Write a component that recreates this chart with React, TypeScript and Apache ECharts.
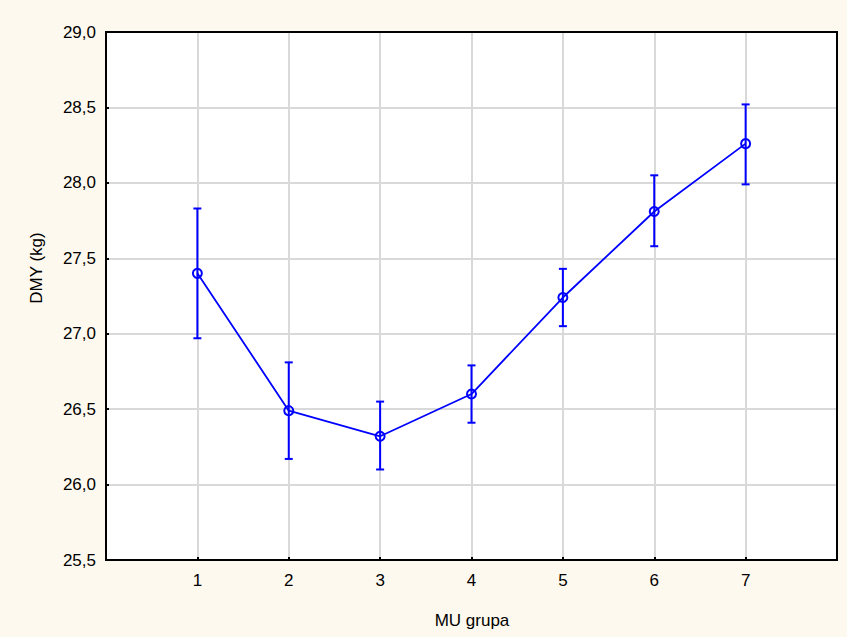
import React, { useEffect, useRef } from "react";
import * as echarts from "echarts";

const categories = [1, 2, 3, 4, 5, 6, 7];
const means = [27.4, 26.49, 26.32, 26.6, 27.24, 27.81, 28.26];
const upper = [27.83, 26.81, 26.55, 26.79, 27.43, 28.05, 28.52];
const lower = [26.97, 26.17, 26.1, 26.41, 27.05, 27.58, 27.99];
const yTicks = { min: 25.5, max: 29.0, step: 0.5 };
const xRange = { min: 0, max: 8 };
const xTitle = "MU grupa";
const yTitle = "DMY (kg)";

const FONT = "'Liberation Sans', Arial, sans-serif";
const BLUE = "#0000ff";
const GRID = { left: 106, right: 10, top: 32, bottom: 77 };
const W = 847;
const H = 637;

export default function App() {
  const ref = useRef<HTMLDivElement>(null);
  useEffect(() => {
    document.body.style.margin = "0";
    if (!ref.current) return;
    const chart = echarts.init(ref.current, null, { renderer: "svg" });
    const lineData = categories.map((c, i) => [c, means[i]]);
    const errData = categories.map((c, i) => [c, lower[i], upper[i]]);
    chart.setOption({
      animation: false,
      backgroundColor: "#fef9ee",
      textStyle: { fontFamily: FONT },
      grid: {
        ...GRID,
        show: true,
        backgroundColor: "#ffffff",
        borderWidth: 0,
      },
      xAxis: {
        type: "value",
        min: xRange.min,
        max: xRange.max,
        interval: 1,
        axisLine: { show: false },
        axisTick: { show: true, inside: true, length: 3, lineStyle: { color: "#000", width: 2 } },
        axisLabel: {
          color: "#000",
          fontSize: 17,
          fontFamily: FONT,
          margin: 12,
          formatter: (v: number) => (v >= 1 && v <= 7 ? String(v) : ""),
        },
        splitLine: { show: true, lineStyle: { color: "#d9d9d9", width: 2 } },
      },
      yAxis: {
        type: "value",
        min: yTicks.min,
        max: yTicks.max,
        interval: yTicks.step,
        axisLine: { show: false },
        axisTick: { show: true, inside: true, length: 3, lineStyle: { color: "#000", width: 2 } },
        axisLabel: {
          color: "#000",
          fontSize: 17,
          fontFamily: FONT,
          margin: 10,
          formatter: (v: number) => v.toFixed(1).replace(".", ","),
        },
        splitLine: { show: true, lineStyle: { color: "#d9d9d9", width: 2 } },
      },
      graphic: [
        {
          type: "rect",
          z: 100,
          silent: true,
          shape: {
            x: GRID.left,
            y: GRID.top,
            width: W - GRID.left - GRID.right,
            height: H - GRID.top - GRID.bottom,
          },
          style: { fill: "none", stroke: "#000", lineWidth: 2 },
        },
        {
          type: "text",
          x: 472,
          y: 620,
          style: { text: xTitle, font: `17px ${FONT}`, fill: "#000", align: "center", verticalAlign: "middle" },
        },
        {
          type: "text",
          x: 36,
          y: 268,
          rotation: Math.PI / 2,
          style: { text: yTitle, font: `17px ${FONT}`, fill: "#000", align: "center", verticalAlign: "middle" },
        },
      ],
      series: [
        {
          type: "custom",
          data: errData,
          z: 3,
          renderItem: (params: any, api: any) => {
            const x = api.value(0);
            const lo = api.coord([x, api.value(1)]);
            const hi = api.coord([x, api.value(2)]);
            const hw = 4;
            const style = { stroke: BLUE, lineWidth: 2 };
            return {
              type: "group",
              children: [
                { type: "line", shape: { x1: lo[0], y1: lo[1], x2: hi[0], y2: hi[1] }, style },
                { type: "line", shape: { x1: lo[0] - hw, y1: lo[1], x2: lo[0] + hw, y2: lo[1] }, style },
                { type: "line", shape: { x1: hi[0] - hw, y1: hi[1], x2: hi[0] + hw, y2: hi[1] }, style },
              ],
            };
          },
        },
        {
          type: "line",
          data: lineData,
          z: 4,
          symbol: "circle",
          symbolSize: 9,
          lineStyle: { color: BLUE, width: 1.8 },
          itemStyle: { color: "rgba(255,255,255,0)", borderColor: BLUE, borderWidth: 2 },
        },
      ],
    });
    return () => chart.dispose();
  }, []);
  return <div ref={ref} style={{ width: W, height: H }} />;
}
